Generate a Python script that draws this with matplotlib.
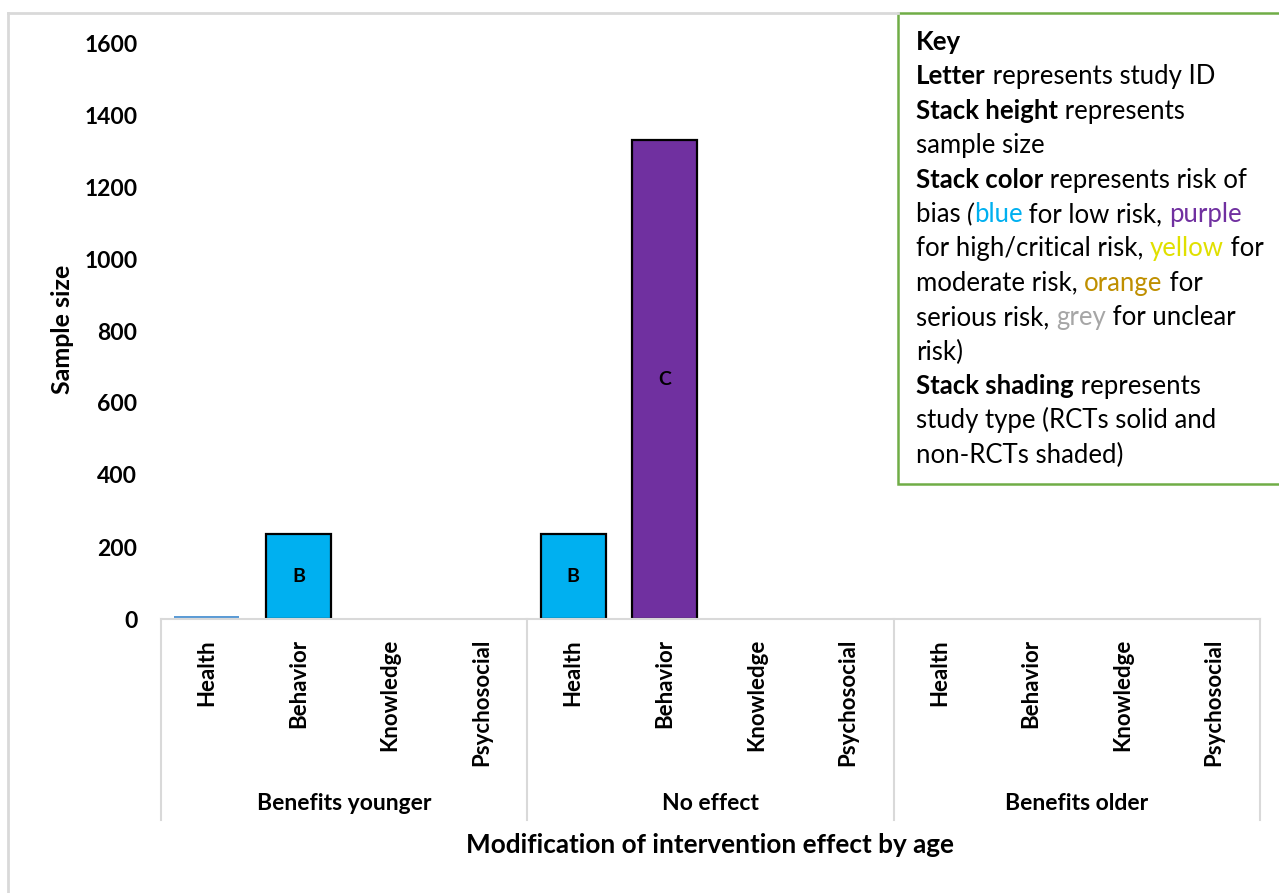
import matplotlib
matplotlib.use('Agg')
import matplotlib.pyplot as plt
import matplotlib.transforms as mtransforms
from matplotlib.patches import Rectangle
from matplotlib.lines import Line2D

# data
groups = ['Benefits younger', 'No effect', 'Benefits older']
categories = ['Health', 'Behavior', 'Knowledge', 'Psychosocial']
sample_younger = [8, 235, 0, 0]
sample_no_effect = [235, 1330, 0, 0]
sample_older = [0, 0, 0, 0]
study_younger = ['', 'B', '', '']
study_no_effect = ['B', 'C', '', '']
study_older = ['', '', '', '']
risk_younger = ['thin', 'low', None, None]
risk_no_effect = ['low', 'high', None, None]
risk_older = [None, None, None, None]

risk_colors = {'low': '#00B0F0', 'high': '#7030A0', 'thin': '#5B9BD5'}

font = 'Lato'
plt.rcParams['font.family'] = [font, 'DejaVu Sans']

W, H = 1279, 893
fig = plt.figure(figsize=(W / 100, H / 100), dpi=100)
ax = fig.add_axes([161 / W, 1 - 619 / H, (1260 - 161) / W, (619 - 43) / H])

values = sample_younger + sample_no_effect + sample_older
studies = study_younger + study_no_effect + study_older
risks = risk_younger + risk_no_effect + risk_older
xpos = list(range(len(values)))

for x, v, s, r in zip(xpos, values, studies, risks):
    if r is None or v == 0:
        continue
    if r == 'thin':
        ax.bar(x, v, width=0.71, color=risk_colors[r], linewidth=0)
    else:
        ax.bar(x, v, width=0.71, color=risk_colors[r], edgecolor='black', linewidth=1.6)
    if s:
        ax.text(x, v / 2, s, ha='center', va='center', fontsize=14, fontweight='bold')

ax.set_ylim(0, 1600)
ax.set_xlim(-0.5, len(values) - 0.5)
ax.set_yticks(range(0, 1601, 200))
ax.tick_params(axis='y', length=0, pad=17, labelsize=16.5)
for lab in ax.get_yticklabels():
    lab.set_fontweight('bold')
for side in ['left', 'right', 'top']:
    ax.spines[side].set_visible(False)
ax.spines['bottom'].set_color('#D9D9D9')
ax.spines['bottom'].set_linewidth(1.5)
ax.set_xticks([])

# category and group labels
ah = 619 - 43
trans = mtransforms.blended_transform_factory(ax.transData, ax.transAxes)
for x in xpos:
    ax.text(x, -20 / ah, categories[x % 4], rotation=90, ha='center', va='top',
            fontsize=16, fontweight='bold', transform=trans)
for g, name in enumerate(groups):
    ax.text(g * 4 + 1.5, -184 / ah, name, ha='center', va='center',
            fontsize=16.5, fontweight='bold', transform=trans)
for b in [-0.5, 3.5, 7.5, 11.5]:
    ax.plot([b, b], [0, -201 / ah], color='#D9D9D9', lw=1.5, transform=trans, clip_on=False)

fig.text(0.5 * (161 + 1260) / W, 1 - 845 / H, 'Modification of intervention effect by age',
         ha='center', va='center', fontsize=18.8, fontweight='bold')
fig.text(62 / W, 1 - 329 / H, 'Sample size', rotation=90, ha='center', va='center',
         fontsize=18, fontweight='bold')

# outer chart frame
ident = mtransforms.IdentityTransform()
fig.add_artist(Line2D([8, 8], [0, H - 13], color='#D9D9D9', lw=2, transform=ident))
fig.add_artist(Line2D([8, 898], [H - 13, H - 13], color='#D9D9D9', lw=2, transform=ident))

# key box
fig.add_artist(Rectangle((898, H - 484), 420, 471, facecolor='white', edgecolor='#70AD47',
                         lw=1.8, transform=ident))

renderer = fig.canvas.get_renderer()
key_fs = 18.5


def text_width(txt, weight, style):
    t1 = fig.text(0, 0, txt + '|', fontsize=key_fs, fontweight=weight, fontstyle=style)
    t2 = fig.text(0, 0, '|', fontsize=key_fs, fontweight=weight, fontstyle=style)
    w = t1.get_window_extent(renderer).width - t2.get_window_extent(renderer).width
    t1.remove()
    t2.remove()
    return w


key_lines = [
    [('Key', 'black', 'bold', 'normal')],
    [('Letter', 'black', 'bold', 'normal'), (' represents study ID', 'black', 'normal', 'normal')],
    [('Stack height', 'black', 'bold', 'normal'), (' represents', 'black', 'normal', 'normal')],
    [('sample size', 'black', 'normal', 'normal')],
    [('Stack color', 'black', 'bold', 'normal'), (' represents risk of', 'black', 'normal', 'normal')],
    [('bias ', 'black', 'normal', 'normal'), ('(', 'black', 'normal', 'italic'),
     ('blue', '#00B0F0', 'normal', 'normal'), (' for low risk, ', 'black', 'normal', 'normal'),
     ('purple', '#7030A0', 'normal', 'normal')],
    [('for high/critical risk, ', 'black', 'normal', 'normal'), ('yellow', '#E0E000', 'normal', 'normal'),
     (' for', 'black', 'normal', 'normal')],
    [('moderate risk, ', 'black', 'normal', 'normal'), ('orange', '#BF8F00', 'normal', 'normal'),
     (' for', 'black', 'normal', 'normal')],
    [('serious risk, ', 'black', 'normal', 'normal'), ('grey', '#A6A6A6', 'normal', 'normal'),
     (' for unclear', 'black', 'normal', 'normal')],
    [('risk)', 'black', 'normal', 'normal')],
    [('Stack shading', 'black', 'bold', 'normal'), (' represents', 'black', 'normal', 'normal')],
    [('study type (RCTs solid and', 'black', 'normal', 'normal')],
    [('non-RCTs shaded)', 'black', 'normal', 'normal')],
]

y0 = 50
spacing = 34.4
for i, line in enumerate(key_lines):
    x = 916
    y = H - (y0 + i * spacing)
    for txt, color, weight, style in line:
        fig.text(x, y, txt, color=color, fontweight=weight, fontstyle=style,
                 fontsize=key_fs, va='baseline', ha='left', transform=ident)
        x += text_width(txt, weight, style)

fig.savefig('out.png', dpi=100)
